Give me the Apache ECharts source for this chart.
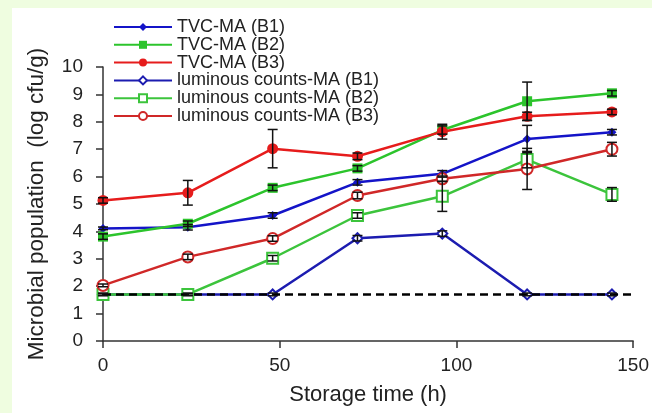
<!DOCTYPE html>
<html>
<head>
<meta charset="utf-8">
<script src="https://cdn.jsdelivr.net/npm/echarts@6/dist/echarts.min.js"></script>
<style>
html,body{margin:0;padding:0;background:#effde0;}
#chart{width:652px;height:413px;}
</style>
</head>
<body>
<div id="chart"></div>
<script>
// ---- data ----
const times = [0, 24, 48, 72, 96, 120, 144];
const seriesNames = ['TVC-MA (B1)', 'TVC-MA (B2)', 'TVC-MA (B3)',
  'luminous counts-MA (B1)', 'luminous counts-MA (B2)', 'luminous counts-MA (B3)'];
const tvcB1 = [4.11, 4.15, 4.58, 5.79, 6.1, 7.37, 7.62];
const tvcB2 = [3.81, 4.28, 5.59, 6.3, 7.7, 8.75, 9.04];
const tvcB3 = [5.13, 5.41, 7.02, 6.74, 7.64, 8.2, 8.36];
const lumB1 = [1.7, 1.7, 1.7, 3.75, 3.92, 1.7, 1.7];
const lumB2 = [1.7, 1.7, 3.02, 4.58, 5.28, 6.62, 5.35];
const lumB3 = [2.03, 3.07, 3.74, 5.31, 5.92, 6.28, 7.0];
const tvcB1Err = [0.05, 0.1, 0.1, 0.1, 0.12, 0.5, 0.1];
const tvcB2Err = [0.1, 0.1, 0.1, 0.1, 0.15, 0.7, 0.1];
const tvcB3Err = [0.1, 0.45, 0.7, 0.12, 0.27, 0.15, 0.1];
const lumB1Err = [0.03, 0.03, 0.05, 0.1, 0.1, 0.05, 0.05];
const lumB2Err = [0.05, 0.05, 0.1, 0.1, 0.55, 0.3, 0.25];
const lumB3Err = [0.05, 0.1, 0.1, 0.12, 0.1, 0.75, 0.25];
const detectionLimit = 1.7;
const limitRange = [0, 150];
const xTicks = [0, 50, 100, 150];
const yTicks = [0, 1, 2, 3, 4, 5, 6, 7, 8, 9, 10];

// ---- styles ----
const values = [tvcB1, tvcB2, tvcB3, lumB1, lumB2, lumB3];
const errs = [tvcB1Err, tvcB2Err, tvcB3Err, lumB1Err, lumB2Err, lumB3Err];
const colors = ['#1414c8', '#2cc42c', '#e61c1c', '#1c1cb0', '#3cc43c', '#d02828'];
const symbols = ['diamond', 'rect', 'circle', 'emptyDiamond', 'emptyRect', 'emptyCircle'];
const sizes = [9, 10, 11, 10, 11, 11];
const FONT = '"Liberation Sans", Arial, sans-serif';

const lineSeries = values.map((v, i) => ({
  name: seriesNames[i],
  type: 'line',
  data: times.map((t, j) => [t, v[j]]),
  symbol: symbols[i],
  symbolSize: sizes[i],
  showAllSymbol: true,
  lineStyle: { color: colors[i], width: 2.5 },
  itemStyle: { color: colors[i], borderColor: colors[i], borderWidth: i >= 3 ? 1.5 : 0 },
  z: 3
}));

const errData = [];
values.forEach((v, i) => {
  times.forEach((t, j) => { errData.push([t, v[j], errs[i][j]]); });
});

const errorSeries = {
  type: 'custom',
  name: 'err',
  data: errData,
  z: 5,
  silent: true,
  renderItem: function (params, api) {
    const x = api.value(0), y = api.value(1), e = api.value(2);
    const p1 = api.coord([x, y + e]);
    const p2 = api.coord([x, y - e]);
    const hw = 5;
    const style = { stroke: '#111', lineWidth: 1.5 };
    return {
      type: 'group',
      children: [
        { type: 'line', shape: { x1: p1[0], y1: p1[1], x2: p2[0], y2: p2[1] }, style: style },
        { type: 'line', shape: { x1: p1[0] - hw, y1: p1[1], x2: p1[0] + hw, y2: p1[1] }, style: style },
        { type: 'line', shape: { x1: p2[0] - hw, y1: p2[1], x2: p2[0] + hw, y2: p2[1] }, style: style }
      ]
    };
  }
};

const limitSeries = {
  type: 'line',
  name: 'limit',
  data: limitRange.map(x => [x, detectionLimit]),
  symbol: 'none',
  lineStyle: { color: '#000', width: 2.5, type: [8, 5] },
  z: 4,
  silent: true
};

const chart = echarts.init(document.getElementById('chart'), null, { renderer: 'canvas' });
chart.setOption({
  backgroundColor: '#effde0',
  animation: false,
  graphic: [{
    type: 'rect', left: 12, top: 8, z: -10,
    shape: { width: 640, height: 405 },
    style: { fill: '#ffffff' }
  }],
  grid: { left: 103, right: 12, top: 67, bottom: 72, containLabel: false },
  legend: {
    data: seriesNames,
    orient: 'vertical',
    left: 108,
    top: 13,
    itemWidth: 58,
    itemHeight: 10,
    itemGap: -0.2,
    textStyle: { fontFamily: FONT, fontSize: 18, color: '#222', lineHeight: 14 }
  },
  xAxis: {
    type: 'value',
    min: xTicks[0], max: xTicks[xTicks.length - 1], interval: 50,
    name: 'Storage time (h)',
    nameLocation: 'middle',
    nameGap: 43,
    nameTextStyle: { fontFamily: FONT, fontSize: 22, color: '#222' },
    axisLine: { lineStyle: { color: '#333', width: 1.5 } },
    axisTick: { length: 7, lineStyle: { color: '#333', width: 1.5 } },
    axisLabel: { fontFamily: FONT, fontSize: 19, color: '#222', margin: 15 },
    splitLine: { show: false }
  },
  yAxis: {
    type: 'value',
    min: yTicks[0], max: yTicks[yTicks.length - 1], interval: 1,
    name: 'Microbial population  (log cfu/g)',
    nameLocation: 'middle',
    nameGap: 55,
    nameTextStyle: { fontFamily: FONT, fontSize: 22.5, color: '#222' },
    axisLine: { show: true, lineStyle: { color: '#333', width: 1.5 } },
    axisTick: { show: true, length: 7, lineStyle: { color: '#333', width: 1.5 } },
    axisLabel: { fontFamily: FONT, fontSize: 19, color: '#222', margin: 20 },
    splitLine: { show: false }
  },
  series: [limitSeries].concat(lineSeries).concat([errorSeries])
});
</script>
</body>
</html>
